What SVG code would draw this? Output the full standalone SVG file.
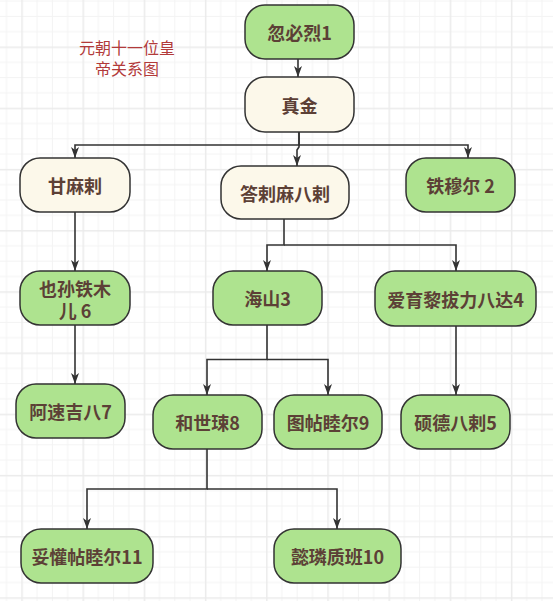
<svg xmlns="http://www.w3.org/2000/svg" width="553" height="601" viewBox="0 0 553 601">
<style>
.node rect{stroke:#333333;stroke-width:1.5}
.g{fill:#AEE38F}
.c{fill:#FCF8EA}
.node text{font-family:"Noto Sans CJK SC","Liberation Sans",sans-serif;font-weight:bold;font-size:18px;fill:#5C4036;text-anchor:middle;dominant-baseline:central}
.title{font-family:"Noto Sans CJK SC",sans-serif;font-size:16px;fill:#B23A3A;text-anchor:middle;dominant-baseline:central}
#connectors path{fill:none;stroke:#333333;stroke-width:1.6;marker-end:url(#arrow)}
</style>
<defs>
<marker id="arrow" markerUnits="userSpaceOnUse" viewBox="0 0 11 8" markerWidth="11" markerHeight="8" refX="11" refY="4" orient="auto">
<path d="M0,0 L11,4 L0,8 L3,4 Z" fill="#333333"/>
</marker>
<pattern id="grid" patternUnits="userSpaceOnUse" x="21.3" y="46.5" width="61.2" height="61.2">
<rect x="15.3" y="0" width="1" height="61.2" fill="#F3F3F3"/>
<rect x="30.6" y="0" width="1" height="61.2" fill="#F3F3F3"/>
<rect x="45.9" y="0" width="1" height="61.2" fill="#F3F3F3"/>
<rect x="0" y="15.3" width="61.2" height="1" fill="#F3F3F3"/>
<rect x="0" y="30.6" width="61.2" height="1" fill="#F3F3F3"/>
<rect x="0" y="45.9" width="61.2" height="1" fill="#F3F3F3"/>
<rect x="0" y="0" width="1.5" height="61.2" fill="#EBEBEB"/>
<rect x="0" y="0" width="61.2" height="1.5" fill="#EBEBEB"/>
</pattern>
</defs>
<rect x="0" y="0" width="553" height="601" fill="#FFFFFF"/>
<rect x="0" y="0" width="553" height="601" fill="url(#grid)"/>

<g id="title">
<text class="title" x="127" y="47"><tspan x="127" y="47">元朝十一位皇</tspan><tspan x="127" y="67.5">帝关系图</tspan></text>
</g>

<g id="connectors">
<path d="M298,59 V77"/>
<path d="M299,132 V145 H75 V158"/>
<path d="M299,132 V147 L297,150 V166"/>
<path d="M299,145 H468 V158"/>
<path d="M75,212 V271"/>
<path d="M75,325 V384"/>
<path d="M284,219 V245 H267 V271"/>
<path d="M284,245 H456 V271"/>
<path d="M267,325 V359.5 H207 V395"/>
<path d="M267,359.5 H328 V395"/>
<path d="M456,326 V395"/>
<path d="M207,449 V489 H87 V529"/>
<path d="M207,489 H337 V529"/>
</g>

<g id="n1" class="node"><rect class="g" x="245" y="5" width="109" height="54" rx="20"/><text x="299.5" y="32">忽必烈1</text></g>
<g id="n_zhenjin" class="node"><rect class="c" x="245" y="77" width="109" height="55" rx="20"/><text x="299.5" y="104.5">真金</text></g>
<g id="n_ganmala" class="node"><rect class="c" x="20" y="158" width="110" height="54" rx="20"/><text x="75" y="185">甘麻剌</text></g>
<g id="n_dalamabala" class="node"><rect class="c" x="221" y="166" width="128" height="53" rx="20"/><text x="285" y="192.5">答剌麻八剌</text></g>
<g id="n2" class="node"><rect class="g" x="406" y="158" width="109" height="54" rx="20"/><text x="460.5" y="185">铁穆尔 2</text></g>
<g id="n6" class="node"><rect class="g" x="20" y="271" width="110" height="54" rx="20"/><text x="75" y="287.5"><tspan x="75" y="287.5">也孙铁木</tspan><tspan x="75" y="309.5">儿 6</tspan></text></g>
<g id="n3" class="node"><rect class="g" x="213" y="271" width="109" height="54" rx="20"/><text x="267.5" y="298">海山3</text></g>
<g id="n4" class="node"><rect class="g" x="375" y="271" width="161" height="55" rx="20"/><text x="455.5" y="298.5">爱育黎拔力八达4</text></g>
<g id="n7" class="node"><rect class="g" x="16" y="384" width="109" height="54" rx="20"/><text x="70.5" y="411">阿速吉八7</text></g>
<g id="n8" class="node"><rect class="g" x="153" y="395" width="109" height="54" rx="20"/><text x="207.5" y="422">和世㻋8</text></g>
<g id="n9" class="node"><rect class="g" x="274" y="395" width="108" height="54" rx="20"/><text x="328" y="422">图帖睦尔9</text></g>
<g id="n5" class="node"><rect class="g" x="401" y="395" width="109" height="54" rx="20"/><text x="455.5" y="422">硕德八剌5</text></g>
<g id="n11" class="node"><rect class="g" x="21" y="529" width="132" height="54" rx="20"/><text x="87" y="556">妥懽帖睦尔11</text></g>
<g id="n10" class="node"><rect class="g" x="274" y="529" width="127" height="54" rx="20"/><text x="337.5" y="556">懿璘质班10</text></g>
</svg>
